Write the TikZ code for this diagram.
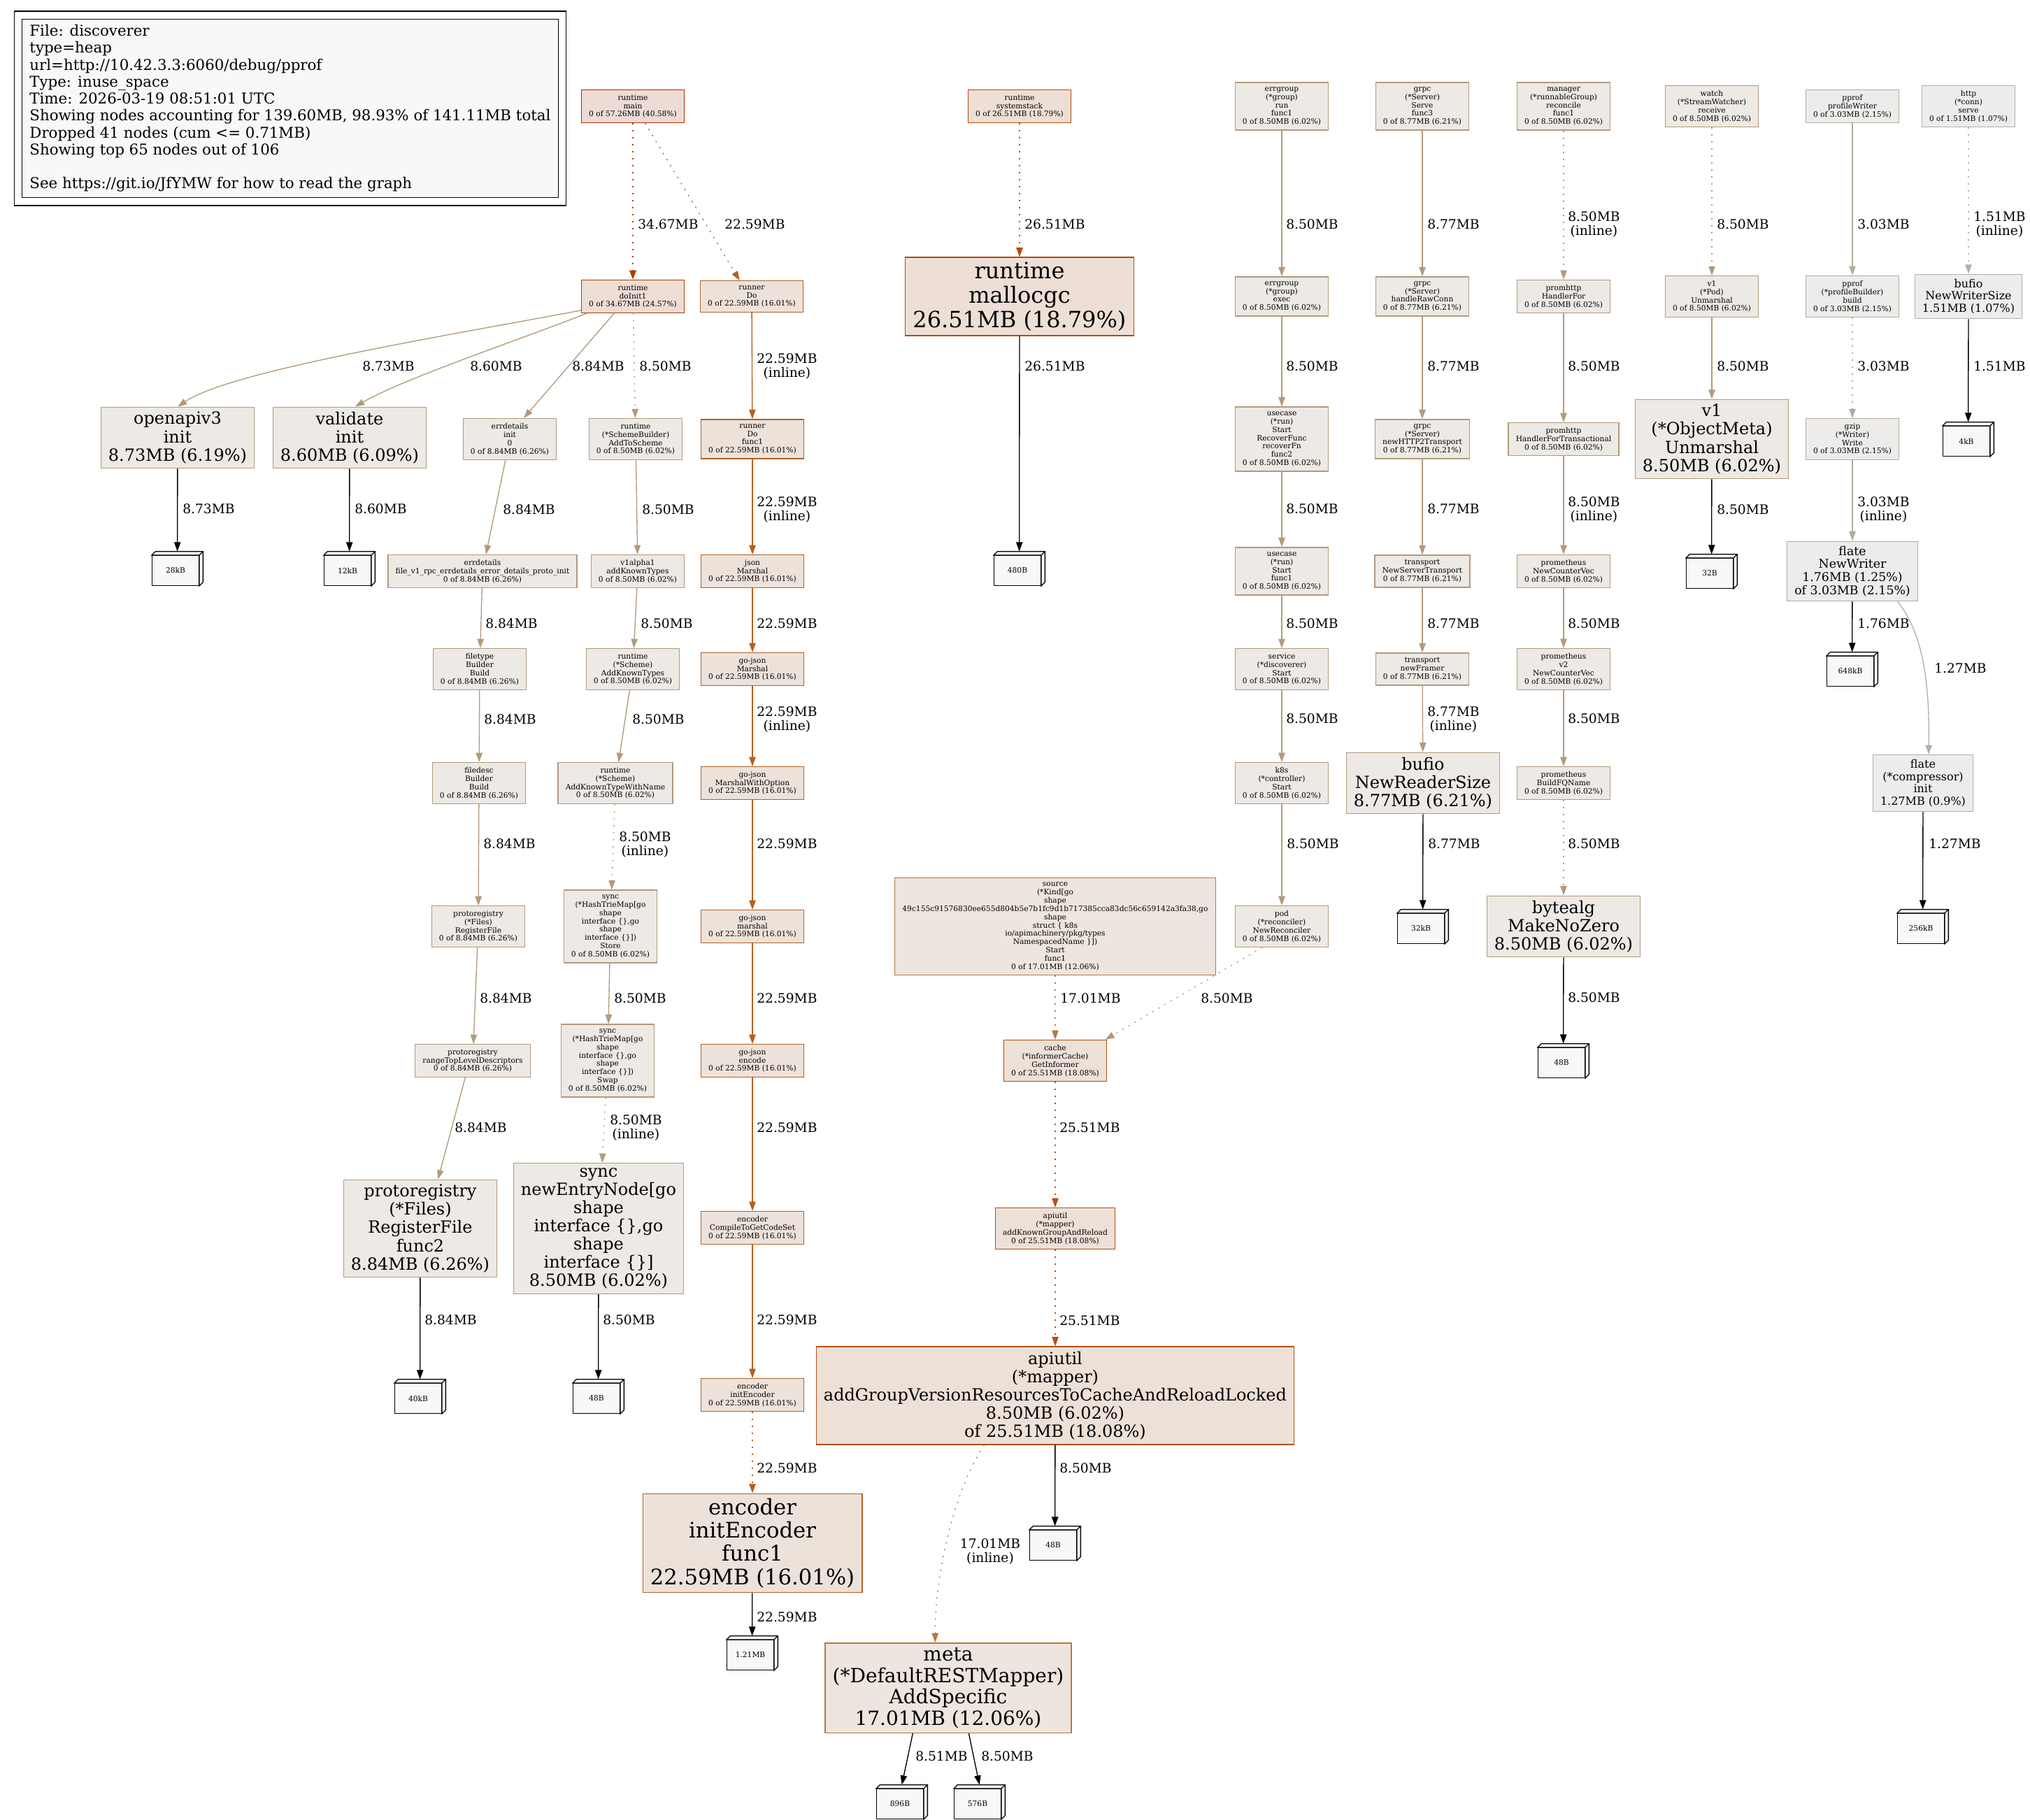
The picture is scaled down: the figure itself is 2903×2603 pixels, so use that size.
\documentclass[tikz,border=0pt]{standalone}
\usepackage{fontspec}
\setmainfont{DejaVu Serif}
\usetikzlibrary{arrows.meta,positioning,calc}
\definecolor{bg40}{HTML}{EDDBD5}\definecolor{fg40}{HTML}{B22A00}
\definecolor{bg24}{HTML}{EDDDD5}\definecolor{fg24}{HTML}{B23D00}
\definecolor{bg18}{HTML}{EDDFD6}\definecolor{fg18}{HTML}{B24C0A}
\definecolor{bgeighteen}{HTML}{EDE0D7}\definecolor{fgeighteen}{HTML}{B25111}
\definecolor{bg16}{HTML}{EDE2DA}\definecolor{fg16}{HTML}{B26023}
\definecolor{bg12}{HTML}{EDE5DE}\definecolor{fg12}{HTML}{B27946}
\definecolor{bg6}{HTML}{EDE9E5}\definecolor{fg6}{HTML}{B29A7B}
\definecolor{bg2}{HTML}{EDECEB}\definecolor{fg2}{HTML}{B2AC9F}
\definecolor{bg1}{HTML}{EDECEC}\definecolor{fg1}{HTML}{B2B0A9}
\definecolor{cubefill}{HTML}{F8F8F8}
\tikzset{
  >={Triangle[length=10pt,width=7pt]},
  fn/.style={draw,line width=1pt,inner xsep=8pt,inner ysep=5pt,align=center,font=\fontsize{8}{8.9}\selectfont},
  n40/.style={fn,draw=fg40,fill=bg40},
  n24/.style={fn,draw=fg24,fill=bg24},
  n18/.style={fn,draw=fg18,fill=bg18},
  nmap/.style={fn,draw=fgeighteen,fill=bgeighteen},
  n16/.style={fn,draw=fg16,fill=bg16},
  n12/.style={fn,draw=fg12,fill=bg12},
  n6/.style={fn,draw=fg6,fill=bg6},
  n2/.style={fn,draw=fg2,fill=bg2},
  n1/.style={fn,draw=fg1,fill=bg1},
  f12/.style={font=\fontsize{12}{13.2}\selectfont},
  f13/.style={font=\fontsize{13}{14.1}\selectfont},
  f18/.style={font=\fontsize{18}{19.6}\selectfont},
  f21/.style={font=\fontsize{21}{22.9}\selectfont},
  f23/.style={font=\fontsize{23}{25}\selectfont},
  f24/.style={font=\fontsize{24}{26.2}\selectfont},
  legend/.style={draw=black,line width=1pt,fill=cubefill,align=left,inner xsep=8pt,inner ysep=6pt,font=\fontsize{16}{18.2}\selectfont},
  cube/.style={draw=black,line width=1pt,fill=cubefill,minimum width=50pt,minimum height=32pt,inner sep=0pt,
    font=\fontsize{8}{9}\selectfont},
  cubeface/.style={draw=black,line width=1pt,fill=cubefill},
  lbl/.style={anchor=west,inner sep=0pt,align=center,font=\fontsize{14}{15.3}\selectfont},
  resid/.style={dash pattern=on 1.5pt off 6pt},
  e24/.style={->,draw=fg24,line width=2pt},
  e18/.style={->,draw=fg18,line width=1pt},
  emap/.style={->,draw=fgeighteen,line width=1pt},
  e16/.style={->,draw=fg16,line width=1pt},
  e12/.style={->,draw=fg12,line width=1pt},
  e6/.style={->,draw=fg6,line width=1pt},
  e2/.style={->,draw=fg2,line width=1pt},
  e1/.style={->,draw=fg1,line width=1pt},
  tagedge/.style={->,draw=black,line width=1pt},
}
\begin{document}
\begin{tikzpicture}[x=0.75pt,y=-0.75pt]
\useasboundingbox (0,0) rectangle (2903,2603);

% legend
\node[legend] (legend) at (415,155) {File: discoverer\\type=heap\\url=http://10.42.3.3:6060/debug/pprof\\Type: inuse\_space\\Time: 2026-03-19 08:51:01 UTC\\Showing nodes accounting for 139.60MB, 98.93\% of 141.11MB total\\Dropped 41 nodes (cum <= 0.71MB)\\Showing top 65 nodes out of 106\\[18.2pt]See https://git.io/JfYMW for how to read the graph};
\draw[line width=1pt] ([shift={(-8pt,8pt)}]legend.north west) rectangle ([shift={(8pt,-8pt)}]legend.south east);

% rank 1
\node[n40] (main) at (905,152) {runtime\\main\\0 of 57.26MB (40.58\%)};
\node[n18] (systemstack) at (1458,152) {runtime\\systemstack\\0 of 26.51MB (18.79\%)};
\node[n6] (errgrouprun) at (1833,152) {errgroup\\(*group)\\run\\func1\\0 of 8.50MB (6.02\%)};
\node[n6] (grpcserve) at (2034,152) {grpc\\(*Server)\\Serve\\func3\\0 of 8.77MB (6.21\%)};
\node[n6] (manager) at (2236,152) {manager\\(*runnableGroup)\\reconcile\\func1\\0 of 8.50MB (6.02\%)};
\node[n6] (watch) at (2448,152) {watch\\(*StreamWatcher)\\receive\\0 of 8.50MB (6.02\%)};
\node[n2] (profwriter) at (2649,152) {pprof\\profileWriter\\0 of 3.03MB (2.15\%)};
\node[n1] (httpconn) at (2815,152) {http\\(*conn)\\serve\\0 of 1.51MB (1.07\%)};

% rank 2
\node[n24] (doinit) at (905,424) {runtime\\doInit1\\0 of 34.67MB (24.57\%)};
\node[n16] (runnerdo) at (1075,424) {runner\\Do\\0 of 22.59MB (16.01\%)};
\node[n18,f24] (mallocgc) at (1458,424) {runtime\\mallocgc\\26.51MB (18.79\%)};
\node[n6] (errgroupexec) at (1833,424) {errgroup\\(*group)\\exec\\0 of 8.50MB (6.02\%)};
\node[n6] (rawconn) at (2034,424) {grpc\\(*Server)\\handleRawConn\\0 of 8.77MB (6.21\%)};
\node[n6] (handlerfor) at (2236,424) {promhttp\\HandlerFor\\0 of 8.50MB (6.02\%)};
\node[n6] (podunm) at (2448,424) {v1\\(*Pod)\\Unmarshal\\0 of 8.50MB (6.02\%)};
\node[n2] (profbuild) at (2649,424) {pprof\\(*profileBuilder)\\build\\0 of 3.03MB (2.15\%)};
\node[n1,f12] (writersize) at (2815,424) {bufio\\NewWriterSize\\1.51MB (1.07\%)};

% rank 3
\node[n6,f18] (openapi) at (254,626) {openapiv3\\init\\8.73MB (6.19\%)};
\node[n6,f18] (validate) at (500,626) {validate\\init\\8.60MB (6.09\%)};
\node[n6] (errdinit) at (729,628) {errdetails\\init\\0\\0 of 8.84MB (6.26\%)};
\node[n6] (addtoscheme) at (909,628) {runtime\\(*SchemeBuilder)\\AddToScheme\\0 of 8.50MB (6.02\%)};
\node[n16] (dofunc) at (1076,628) {runner\\Do\\func1\\0 of 22.59MB (16.01\%)};
\node[n6] (recoverfn) at (1833,628) {usecase\\(*run)\\Start\\RecoverFunc\\recoverFn\\func2\\0 of 8.50MB (6.02\%)};
\node[n6] (httptwo) at (2034,628) {grpc\\(*Server)\\newHTTP2Transport\\0 of 8.77MB (6.21\%)};
\node[n6] (transactional) at (2236,628) {promhttp\\HandlerForTransactional\\0 of 8.50MB (6.02\%)};
\node[n6,f18] (objmeta) at (2448,628) {v1\\(*ObjectMeta)\\Unmarshal\\8.50MB (6.02\%)};
\node[n2] (gzipwrite) at (2649,628) {gzip\\(*Writer)\\Write\\0 of 3.03MB (2.15\%)};
\node[cube] (kfourk) at (2812,631) {4kB};

% rank 4
\node[cube] (ktwentyeight) at (251,816) {28kB};
\node[cube] (ktwelve) at (497,816) {12kB};
\node[n6] (protoinit) at (690,817) {errdetails\\file\_v1\_rpc\_errdetails\_error\_details\_proto\_init\\0 of 8.84MB (6.26\%)};
\node[n6] (vonealpha) at (912,817) {v1alpha1\\addKnownTypes\\0 of 8.50MB (6.02\%)};
\node[n16] (jsonmarshal) at (1076,817) {json\\Marshal\\0 of 22.59MB (16.01\%)};
\node[cube] (kfoureighty) at (1455,816) {480B};
\node[n6] (startfunc) at (1833,817) {usecase\\(*run)\\Start\\func1\\0 of 8.50MB (6.02\%)};
\node[n6] (servertransport) at (2034,817) {transport\\NewServerTransport\\0 of 8.77MB (6.21\%)};
\node[n6] (countervec) at (2236,817) {prometheus\\NewCounterVec\\0 of 8.50MB (6.02\%)};
\node[cube] (kthirtytwob) at (2445,820) {32B};
\node[n2,f13] (flatewriter) at (2649,817) {flate\\NewWriter\\1.76MB (1.25\%)\\of 3.03MB (2.15\%)};

% rank 5
\node[n6] (filetype) at (686,957) {filetype\\Builder\\Build\\0 of 8.84MB (6.26\%)};
\node[n6] (addknown) at (905,957) {runtime\\(*Scheme)\\AddKnownTypes\\0 of 8.50MB (6.02\%)};
\node[n16] (gojsonmarshal) at (1076,957) {go-json\\Marshal\\0 of 22.59MB (16.01\%)};
\node[n6] (discoverer) at (1833,957) {service\\(*discoverer)\\Start\\0 of 8.50MB (6.02\%)};
\node[n6] (newframer) at (2034,957) {transport\\newFramer\\0 of 8.77MB (6.21\%)};
\node[n6] (countervectwo) at (2236,957) {prometheus\\v2\\NewCounterVec\\0 of 8.50MB (6.02\%)};
\node[cube] (ksixfortyeight) at (2646,960) {648kB};

% rank 6
\node[n6] (filedesc) at (685,1120) {filedesc\\Builder\\Build\\0 of 8.84MB (6.26\%)};
\node[n6] (knownname) at (880,1120) {runtime\\(*Scheme)\\AddKnownTypeWithName\\0 of 8.50MB (6.02\%)};
\node[n16] (withoption) at (1076,1120) {go-json\\MarshalWithOption\\0 of 22.59MB (16.01\%)};
\node[n6] (controller) at (1833,1120) {k8s\\(*controller)\\Start\\0 of 8.50MB (6.02\%)};
\node[n6,f18] (readersize) at (2035,1120) {bufio\\NewReaderSize\\8.77MB (6.21\%)};
\node[n6] (fqname) at (2236,1120) {prometheus\\BuildFQName\\0 of 8.50MB (6.02\%)};
\node[n1,f12] (compressor) at (2750,1120) {flate\\(*compressor)\\init\\1.27MB (0.9\%)};

% rank 7
\node[n6] (registerfile) at (684,1325) {protoregistry\\(*Files)\\RegisterFile\\0 of 8.84MB (6.26\%)};
\node[n6] (triestore) at (873,1325) {sync\\(*HashTrieMap[go\\shape\\interface \{\},go\\shape\\interface \{\}])\\Store\\0 of 8.50MB (6.02\%)};
\node[n16] (gojsonlower) at (1076,1325) {go-json\\marshal\\0 of 22.59MB (16.01\%)};
\node[n12] (source) at (1509,1325) {source\\(*Kind[go\\shape\\49c155c91576830ee655d804b5e7b1fc9d1b717385cca83dc56c659142a3fa38,go\\shape\\struct \{ k8s\\io/apimachinery/pkg/types\\NamespacedName \}])\\Start\\func1\\0 of 17.01MB (12.06\%)};
\node[n6] (reconciler) at (1833,1325) {pod\\(*reconciler)\\NewReconciler\\0 of 8.50MB (6.02\%)};
\node[cube] (kthirtytwok) at (2032,1328) {32kB};
\node[n6,f18] (makenozero) at (2236,1325) {bytealg\\MakeNoZero\\8.50MB (6.02\%)};
\node[cube] (ktwofiftysix) at (2747,1328) {256kB};

% rank 8
\node[n6] (rangetop) at (676,1517) {protoregistry\\rangeTopLevelDescriptors\\0 of 8.84MB (6.26\%)};
\node[n6] (trieswap) at (869,1517) {sync\\(*HashTrieMap[go\\shape\\interface \{\},go\\shape\\interface \{\}])\\Swap\\0 of 8.50MB (6.02\%)};
\node[n16] (encode) at (1076,1517) {go-json\\encode\\0 of 22.59MB (16.01\%)};
\node[nmap] (getinformer) at (1509,1517) {cache\\(*informerCache)\\GetInformer\\0 of 25.51MB (18.08\%)};
\node[cube] (kbytealg) at (2233,1520) {48B};

% rank 9
\node[n6,f18] (registerfunc) at (601,1757) {protoregistry\\(*Files)\\RegisterFile\\func2\\8.84MB (6.26\%)};
\node[n6,f18] (newentry) at (856,1757) {sync\\newEntryNode[go\\shape\\interface \{\},go\\shape\\interface \{\}]\\8.50MB (6.02\%)};
\node[n16] (codeset) at (1076,1756) {encoder\\CompileToGetCodeSet\\0 of 22.59MB (16.01\%)};
\node[nmap] (reload) at (1509,1757) {apiutil\\(*mapper)\\addKnownGroupAndReload\\0 of 25.51MB (18.08\%)};

% rank 10
\node[cube] (kforty) at (598,2000) {40kB};
\node[cube] (ksync) at (853,2000) {48B};
\node[n16] (initencoder) at (1076,1995) {encoder\\initEncoder\\0 of 22.59MB (16.01\%)};
\node[nmap,f18] (reloadlocked) at (1509,1996) {apiutil\\(*mapper)\\addGroupVersionResourcesToCacheAndReloadLocked\\8.50MB (6.02\%)\\of 25.51MB (18.08\%)};

% rank 11 and below
\node[n16,f23] (encfunc) at (1076,2207) {encoder\\initEncoder\\func1\\22.59MB (16.01\%)};
\node[cube] (kapiutil) at (1506,2210) {48B};
\node[cube] (konetwentyone) at (1073,2367) {1.21MB};
\node[n12,f21] (addspecific) at (1356,2414) {meta\\(*DefaultRESTMapper)\\AddSpecific\\17.01MB (12.06\%)};
\node[cube] (keightninetysix) at (1287,2580) {896B};
\node[cube] (kfiveseventysix) at (1398,2580) {576B};

% top and side faces of the cubes
\foreach \k in {kfourk,ktwentyeight,ktwelve,kfoureighty,kthirtytwob,ksixfortyeight,kthirtytwok,ktwofiftysix,kbytealg,kforty,ksync,kapiutil,konetwentyone,keightninetysix,kfiveseventysix}
  \draw[cubeface] (\k.north west) -- ++(4pt,4pt) -- ([shift={(4pt,4pt)}]\k.north east)
    -- ([shift={(4pt,4pt)}]\k.south east) -- (\k.south east) -- (\k.north east) -- cycle
    (\k.north east) -- ++(4pt,4pt);

% edges, rank 1 to 2
\draw[e24,resid] (main) -- (doinit);
\draw[e16,resid] ([xshift=13pt]main.south) -- ([xshift=-13pt]runnerdo.north);
\draw[e18,resid] (systemstack) -- (mallocgc);
\draw[e6] (errgrouprun) -- (errgroupexec);
\draw[e6] (grpcserve) -- (rawconn);
\draw[e6,resid] (manager) -- (handlerfor);
\draw[e6,resid] (watch) -- (podunm);
\draw[e2] (profwriter) -- (profbuild);
\draw[e1,resid] (httpconn) -- (writersize);
\node[lbl] (wa) at (912,321) {34.67MB};
\node[lbl] (wb) at (1036,321) {22.59MB};
\node[lbl] (wc) at (1465,321) {26.51MB};
\node[lbl] (wd) at (1839,321) {8.50MB};
\node[lbl] (we) at (2041,321) {8.77MB};
\node[lbl] (wf) at (2242,321) {8.50MB\\(inline)};
\node[lbl] (wg) at (2455,321) {8.50MB};
\node[lbl] (wh) at (2656,321) {3.03MB};
\node[lbl] (wi) at (2822,321) {1.51MB\\(inline)};

% rank 2 to 3
\draw[e6] (doinit.195) .. controls (640,480) and (330,530) .. (openapi.north);
\draw[e6] (doinit.200) .. controls (760,480) and (580,540) .. ([xshift=6pt]validate.north);
\draw[e6] ([xshift=-20pt]doinit.south) -- ([xshift=15pt]errdinit.north);
\draw[e6,resid] (doinit) -- (addtoscheme);
\draw[e16] (runnerdo) -- (dofunc);
\draw[tagedge] (mallocgc) -- ([xshift=2pt,yshift=4pt]kfoureighty.north);
\draw[e6] (errgroupexec) -- (recoverfn);
\draw[e6] (rawconn) -- (httptwo);
\draw[e6] (handlerfor) -- (transactional);
\draw[e6] (podunm) -- (objmeta);
\draw[e2,resid] (profbuild) -- (gzipwrite);
\draw[tagedge] (writersize) -- ([xshift=2pt,yshift=4pt]kfourk.north);
\node[lbl] (wj) at (518,524) {8.73MB};
\node[lbl] (wk) at (672,524) {8.60MB};
\node[lbl] (wl) at (818,524) {8.84MB};
\node[lbl] (wm) at (914,524) {8.50MB};
\node[lbl] (wn) at (1082,524) {22.59MB\\(inline)};
\node[lbl] (wo) at (1465,524) {26.51MB};
\node[lbl] (wp) at (1839,524) {8.50MB};
\node[lbl] (wq) at (2041,524) {8.77MB};
\node[lbl] (wr) at (2242,524) {8.50MB};
\node[lbl] (ws) at (2455,524) {8.50MB};
\node[lbl] (wt) at (2656,524) {3.03MB};
\node[lbl] (wu) at (2822,524) {1.51MB};

% rank 3 to 4
\draw[tagedge] (openapi) -- ([xshift=2pt,yshift=4pt]ktwentyeight.north);
\draw[tagedge] (validate) -- ([xshift=2pt,yshift=4pt]ktwelve.north);
\draw[e6] (errdinit) -- (protoinit);
\draw[e6] (addtoscheme) -- (vonealpha);
\draw[e16] (dofunc) -- (jsonmarshal);
\draw[e6] (recoverfn) -- (startfunc);
\draw[e6] (httptwo) -- (servertransport);
\draw[e6] (transactional) -- (countervec);
\draw[tagedge] (objmeta) -- ([xshift=2pt,yshift=4pt]kthirtytwob.north);
\draw[e2] (gzipwrite) -- (flatewriter);
\node[lbl] (wv) at (261,728) {8.73MB};
\node[lbl] (ww) at (507,728) {8.60MB};
\node[lbl] (wx) at (719,729) {8.84MB};
\node[lbl] (wy) at (918,729) {8.50MB};
\node[lbl] (wz) at (1082,729) {22.59MB\\(inline)};
\node[lbl] (xa) at (1839,728) {8.50MB};
\node[lbl] (xb) at (2041,728) {8.77MB};
\node[lbl] (xc) at (2242,729) {8.50MB\\(inline)};
\node[lbl] (xd) at (2455,729) {8.50MB};
\node[lbl] (xe) at (2656,729) {3.03MB\\(inline)};

% rank 4 to 5
\draw[e6] (protoinit) -- (filetype);
\draw[e6] (vonealpha) -- (addknown);
\draw[e16] (jsonmarshal) -- (gojsonmarshal);
\draw[e6] (startfunc) -- (discoverer);
\draw[e6] (servertransport) -- (newframer);
\draw[e6] (countervec) -- (countervectwo);
\draw[tagedge] (flatewriter) -- ([xshift=2pt,yshift=4pt]ksixfortyeight.north);
\draw[e1] ([xshift=-22pt]flatewriter.south east) .. controls (2745,900) and (2760,960) .. ([xshift=6pt]compressor.north);
\node[lbl] (xf) at (694,892) {8.84MB};
\node[lbl] (xg) at (916,892) {8.50MB};
\node[lbl] (xh) at (1082,892) {22.59MB};
\node[lbl] (xi) at (1839,892) {8.50MB};
\node[lbl] (xj) at (2041,892) {8.77MB};
\node[lbl] (xk) at (2242,892) {8.50MB};
\node[lbl] (xl) at (2656,892) {1.76MB};
\node[lbl] (xm) at (2766,956) {1.27MB};

% rank 5 to 6
\draw[e6] (filetype) -- (filedesc);
\draw[e6] (addknown) -- (knownname);
\draw[e16] (gojsonmarshal) -- (withoption);
\draw[e6] (discoverer) -- (controller);
\draw[e6] (newframer) -- (readersize);
\draw[e6] (countervectwo) -- (fqname);
\node[lbl] (xn) at (692,1029) {8.84MB};
\node[lbl] (xo) at (904,1029) {8.50MB};
\node[lbl] (xp) at (1082,1029) {22.59MB\\(inline)};
\node[lbl] (xq) at (1839,1028) {8.50MB};
\node[lbl] (xr) at (2041,1029) {8.77MB\\(inline)};
\node[lbl] (xs) at (2242,1028) {8.50MB};

% rank 6 to 7
\draw[e6] (filedesc) -- (registerfile);
\draw[e6,resid] (knownname) -- (triestore);
\draw[e16] (withoption) -- (gojsonlower);
\draw[e6] (controller) -- (reconciler);
\draw[tagedge] (readersize) -- ([xshift=2pt,yshift=4pt]kthirtytwok.north);
\draw[e6,resid] (fqname) -- (makenozero);
\draw[tagedge] (compressor) -- ([xshift=2pt,yshift=4pt]ktwofiftysix.north);
\node[lbl] (xt) at (691,1207) {8.84MB};
\node[lbl] (xu) at (885,1208) {8.50MB\\(inline)};
\node[lbl] (xv) at (1082,1207) {22.59MB};
\node[lbl] (xw) at (1840,1207) {8.50MB};
\node[lbl] (xx) at (2042,1207) {8.77MB};
\node[lbl] (xy) at (2242,1207) {8.50MB};
\node[lbl] (xz) at (2758,1207) {1.27MB};

% rank 7 to 8
\draw[e6] (registerfile) -- (rangetop);
\draw[e6] (triestore) -- (trieswap);
\draw[e16] (gojsonlower) -- (encode);
\draw[e12,resid] (source) -- (getinformer);
\draw[e6,resid] ([xshift=-21pt]reconciler.south) -- ([xshift=-2pt]getinformer.north east);
\draw[tagedge] (makenozero) -- ([xshift=2pt,yshift=4pt]kbytealg.north);
\node[lbl] (ya) at (686,1428) {8.84MB};
\node[lbl] (yb) at (878,1428) {8.50MB};
\node[lbl] (yc) at (1082,1428) {22.59MB};
\node[lbl] (yd) at (1516,1428) {17.01MB};
\node[lbl] (ye) at (1717,1428) {8.50MB};
\node[lbl] (yf) at (2242,1427) {8.50MB};

% rank 8 to 9
\draw[e6] ([xshift=-8pt]rangetop.south) -- ([xshift=19pt]registerfunc.north);
\draw[e6,resid] (trieswap) -- (newentry);
\draw[e16] (encode) -- (codeset);
\draw[emap,resid] (getinformer) -- (reload);
\node[lbl] (yg) at (650,1613) {8.84MB};
\node[lbl] (yh) at (872,1613) {8.50MB\\(inline)};
\node[lbl] (yi) at (1082,1613) {22.59MB};
\node[lbl] (yj) at (1515,1613) {25.51MB};

% rank 9 to 10
\draw[tagedge] (registerfunc) -- ([xshift=2pt,yshift=4pt]kforty.north);
\draw[tagedge] (newentry) -- ([xshift=2pt,yshift=4pt]ksync.north);
\draw[e16] (codeset) -- (initencoder);
\draw[emap,resid] (reload) -- (reloadlocked);
\node[lbl] (yk) at (607,1888) {8.84MB};
\node[lbl] (yl) at (862,1888) {8.50MB};
\node[lbl] (ym) at (1082,1888) {22.59MB};
\node[lbl] (yn) at (1515,1889) {25.51MB};

% rank 10 and below
\draw[e16,resid] (initencoder) -- (encfunc);
\draw[tagedge] (reloadlocked) -- ([xshift=2pt,yshift=4pt]kapiutil.north);
\draw[e12,resid] ([xshift=-76pt]reloadlocked.south) .. controls (1365,2130) and (1337,2250) .. ([xshift=-14pt]addspecific.north);
\draw[tagedge] (encfunc) -- ([xshift=2pt,yshift=4pt]konetwentyone.north);
\draw[tagedge] ([xshift=-38pt]addspecific.south) -- ([xshift=2pt,yshift=4pt]keightninetysix.north);
\draw[tagedge] ([xshift=22pt]addspecific.south) -- ([xshift=2pt,yshift=4pt]kfiveseventysix.north);
\node[lbl] (yo) at (1082,2100) {22.59MB};
\node[lbl] (yp) at (1515,2100) {8.50MB};
\node[lbl,anchor=center] (yq) at (1416,2219) {17.01MB\\(inline)};
\node[lbl] (yr) at (1082,2313) {22.59MB};
\node[lbl] (ys) at (1309,2512) {8.51MB};
\node[lbl] (yt) at (1403,2512) {8.50MB};
\end{tikzpicture}
\end{document}
